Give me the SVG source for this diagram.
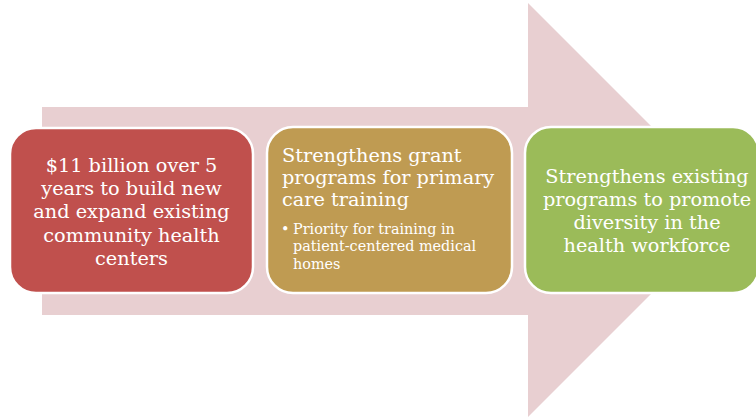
<svg xmlns="http://www.w3.org/2000/svg" width="756" height="418" viewBox="0 0 756 418">
<style>
.box{stroke:#fff;stroke-width:2.5}
.t{font-family:"DejaVu Serif","Liberation Serif",serif;fill:#fff;font-size:19.3px}
.s{font-family:"DejaVu Serif","Liberation Serif",serif;fill:#fff;font-size:14.4px}
</style>
<rect width="756" height="418" fill="#fff"/>
<g id="arrow">
<polygon points="42,107 528,107 528,3 735,210 528,417 528,315 42,315" fill="#E8CFD1"/>
</g>
<g id="connectors"></g>
<g id="node1">
<rect class="box" x="10" y="128" width="243" height="165" rx="26" fill="#C0504D"/>
<text class="t" text-anchor="middle" x="131.5" y="172">$11 billion over 5</text>
<text class="t" text-anchor="middle" x="131.5" y="195">years to build new</text>
<text class="t" text-anchor="middle" x="131.5" y="218">and expand existing</text>
<text class="t" text-anchor="middle" x="131.5" y="242">community health</text>
<text class="t" text-anchor="middle" x="131.5" y="265">centers</text>
</g>
<g id="node2">
<rect class="box" x="267" y="127" width="245" height="166" rx="26" fill="#BF9B52"/>
<text class="t" x="282" y="162">Strengthens grant</text>
<text class="t" x="282" y="184">programs for primary</text>
<text class="t" x="282" y="206">care training</text>
<text class="s" x="281" y="234">•</text>
<text class="s" x="293" y="234">Priority for training in</text>
<text class="s" x="293" y="251">patient-centered medical</text>
<text class="s" x="293" y="269">homes</text>
</g>
<g id="node3">
<rect class="box" x="525" y="127" width="234" height="166" rx="26" fill="#9BBB59"/>
<text class="t" text-anchor="middle" x="647" y="183">Strengthens existing</text>
<text class="t" text-anchor="middle" x="647" y="206">programs to promote</text>
<text class="t" text-anchor="middle" x="647" y="229">diversity in the</text>
<text class="t" text-anchor="middle" x="647" y="252">health workforce</text>
</g>
</svg>
